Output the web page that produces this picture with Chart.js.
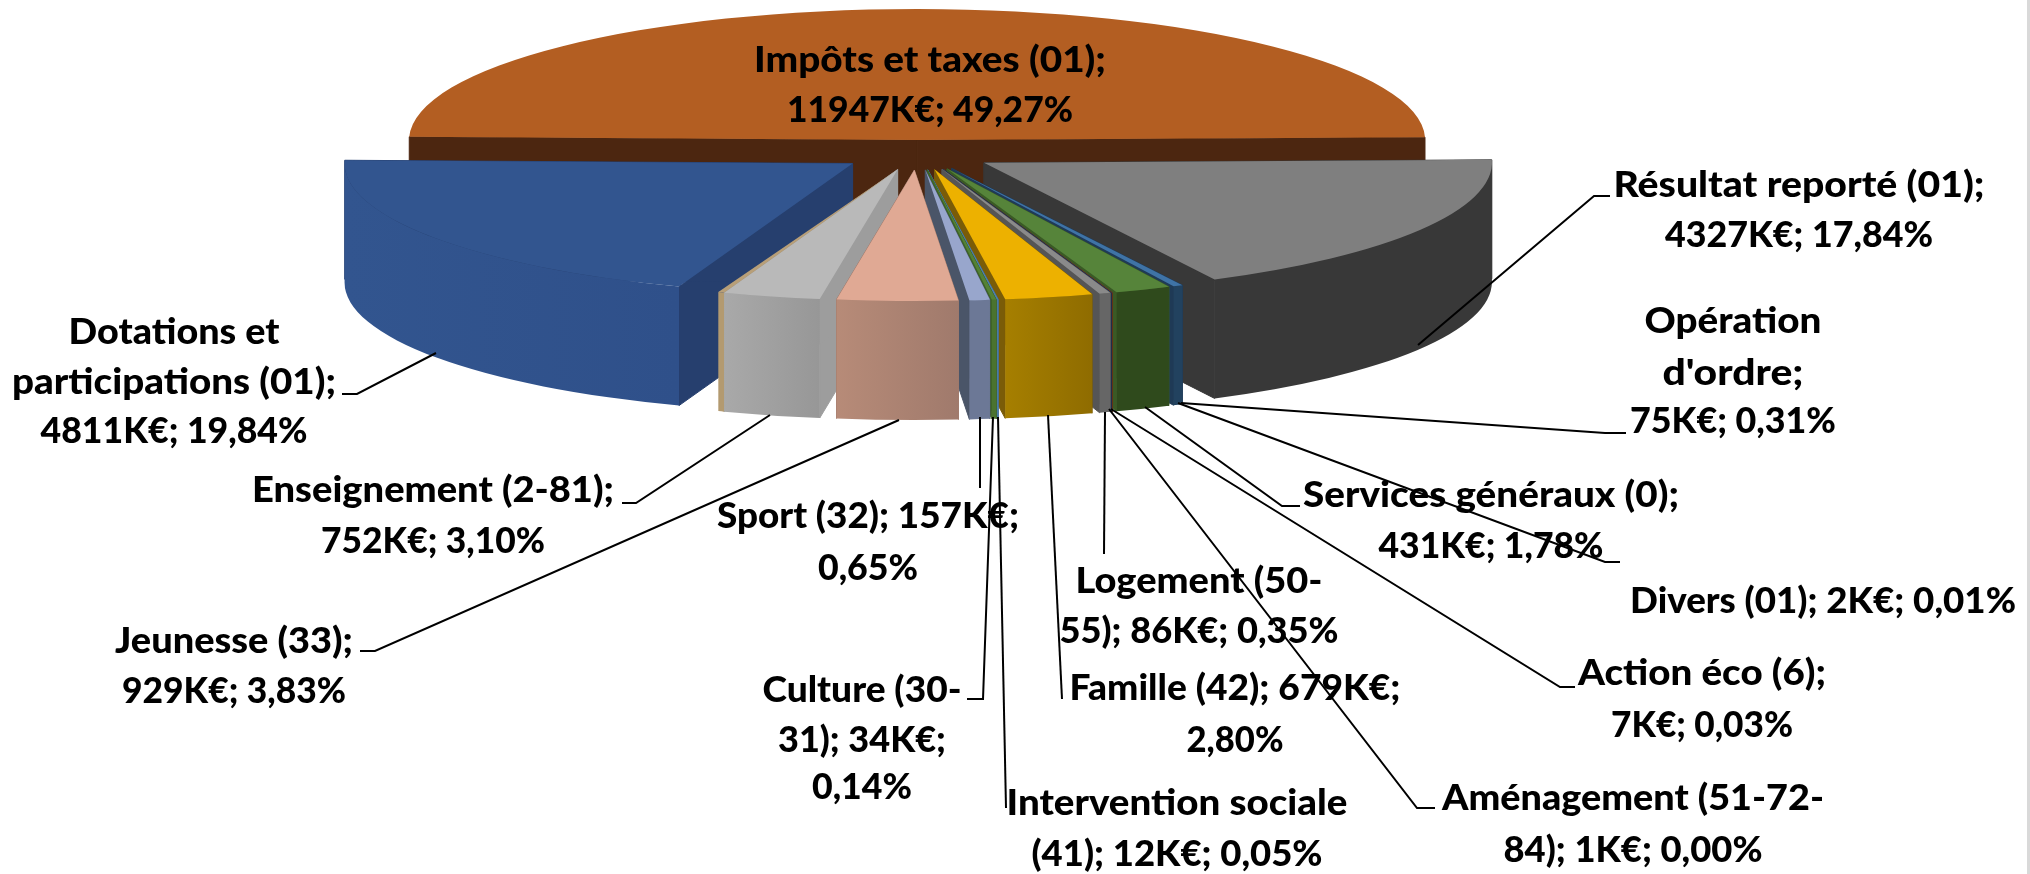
<!DOCTYPE html>
<html lang="fr">
<head>
<meta charset="utf-8">
<title>Recettes</title>
<script src="https://cdn.jsdelivr.net/npm/chart.js@4"></script>
<style>
  html, body { margin: 0; padding: 0; background: #fff; overflow: hidden; }
  canvas { display: block; filter: blur(0.5px); }
</style>
</head>
<body>
<canvas id="recettes-chart" width="2030" height="874"></canvas>
<script>
// Chart values, same order as the slices clockwise
const categories = [
  "Impôts et taxes (01)", "Résultat reporté (01)", "Opération d'ordre", "Services généraux (0)",
  "Divers (01)", "Action éco (6)", "Aménagement (51-72-84)", "Logement (50-55)", "Famille (42)",
  "Intervention sociale (41)", "Culture (30-31)", "Sport (32)", "Jeunesse (33)",
  "Enseignement (2-81)", "Dotations et participations (01)"
];
const valuesKEur = [11947, 4327, 75, 431, 2, 7, 1, 86, 679, 12, 34, 157, 929, 752, 4811];

// Slice colours: top face, outer wall (left and right of the gradient), cut faces
const topColors = ['#b35e22', '#7f7f7f', '#3f73a6', '#56843a', '#636363', '#9e480e', '#264478', '#8a8a8a',
  '#edb100', '#4f81b0', '#548235', '#98a6cc', '#e0a994', '#b9b9b9', '#32558f'];
const wallColors = [['#4c2610', '#4c2610'], ['#383838', '#383838'], ['#22425f', '#22425f'], ['#2f4a1c', '#2f4a1c'],
  ['#444444', '#444444'], ['#6b300a', '#6b300a'], ['#1a2e50', '#1a2e50'], ['#666666', '#666666'],
  ['#a67f00', '#8f6c00'], ['#4a7ba8', '#4a7ba8'], ['#4a7330', '#4a7330'], ['#6c7896', '#6c7896'],
  ['#b78b78', '#a07a6c'], ['#a9a9a9', '#979797'], ['#32558f', '#2f508a']];
const cutColors = ['#4c2610', '#383838', '#1f3a56', '#3a5a25', '#444444', '#6b300a', '#1a2e50', '#555555',
  '#7a5c08', '#3f6d96', '#3d6325', '#4a5568', '#a07a6c', '#9d9d9d', '#263f6e'];

// Data labels: wrapped lines, centre x, baselines, fitted widths, leader line
const labelLines = [
  ["Impôts et taxes (01);", "11947K€; 49,27%"],
  ["Résultat reporté (01);", "4327K€; 17,84%"],
  ["Opération", "d'ordre;", "75K€; 0,31%"],
  ["Services généraux (0);", "431K€; 1,78%"],
  ["Divers (01); 2K€; 0,01%"],
  ["Action éco (6);", "7K€; 0,03%"],
  ["Aménagement (51-72-", "84); 1K€; 0,00%"],
  ["Logement (50-", "55); 86K€; 0,35%"],
  ["Famille (42); 679K€;", "2,80%"],
  ["Intervention sociale", "(41); 12K€; 0,05%"],
  ["Culture (30-", "31); 34K€;", "0,14%"],
  ["Sport (32); 157K€;", "0,65%"],
  ["Jeunesse (33);", "929K€; 3,83%"],
  ["Enseignement (2-81);", "752K€; 3,10%"],
  ["Dotations et", "participations (01);", "4811K€; 19,84%"]
];
const labelCenters = [930, 1799, 1733, 1491, 1823, 1702, 1633, 1199, 1235, 1177, 862, 868, 234, 433, 174];
const labelBaselines = [
  [72, 122], [197, 247], [333, 385, 433], [507, 558], [613], [685, 737], [810, 862], [593, 643],
  [700, 752], [815, 866], [702, 752, 799], [528, 580], [653, 703], [502, 553], [344, 394, 443]
];
const labelWidths = [
  [352, 286], [371, 268], [177, 141, 206], [376, 225], [386], [248, 182], [382, 259], [247, 279],
  [331, 97], [341, 291], [199, 168, 100], [302, 100], [238, 224], [362, 224], [211, 324, 267]
];
const leaderLines = [
  null,
  [[1610, 196], [1594, 196], [1418, 345]],
  [[1626, 433], [1605, 433], [1181, 403]],
  [[1300, 506], [1282, 506], [1145, 407]],
  [[1620, 562], [1605, 562], [1178, 403]],
  [[1575, 687], [1560, 687], [1111, 409]],
  [[1435, 808], [1417, 808], [1109, 409]],
  [[1104, 554], [1105, 412]],
  [[1062, 699], [1048, 415]],
  [[1006, 808], [998, 417]],
  [[967, 699], [983, 699], [993, 417]],
  [[980, 488], [980, 417]],
  [[360, 651], [375, 651], [899, 420]],
  [[622, 503], [636, 503], [770, 415]],
  [[342, 394], [357, 394], [436, 353]]
];

// 3D look of the pie
const PIE_X = 917, PIE_Y = 155;
const RADIUS_X = 508, RADIUS_Y = 131, DEPTH = 119;
const EXPLODE_X = 78, EXPLODE_Y = 15;
const ENSEIGNEMENT = 13; // this slice has a thin tan edge on its left

function sliceOrigin(arc) {
  const mid = (arc.startAngle + arc.endAngle) / 2;
  return { x: PIE_X + Math.cos(mid) * EXPLODE_X, y: PIE_Y + Math.sin(mid) * EXPLODE_Y };
}

function cutFace(ctx, o, angle, color) {
  const ex = o.x + Math.cos(angle) * RADIUS_X, ey = o.y + Math.sin(angle) * RADIUS_Y;
  ctx.fillStyle = color;
  ctx.strokeStyle = color; // hides the seam where two faces meet
  ctx.lineWidth = 1;
  ctx.beginPath();
  ctx.moveTo(o.x, o.y);
  ctx.lineTo(ex, ey);
  ctx.lineTo(ex, ey + DEPTH);
  ctx.lineTo(o.x, o.y + DEPTH);
  ctx.closePath();
  ctx.fill();
  ctx.stroke();
}

function outerWall(ctx, o, start, end, colors) {
  // only the front half of the rim can be seen
  const a0 = Math.max(start, 0), a1 = Math.min(end, Math.PI);
  if (a1 <= a0) return;
  const x0 = o.x + Math.cos(a1) * RADIUS_X, x1 = o.x + Math.cos(a0) * RADIUS_X;
  const grad = ctx.createLinearGradient(x0, 0, x1, 0);
  grad.addColorStop(0, colors[0]);
  grad.addColorStop(1, colors[1]);
  ctx.fillStyle = grad;
  ctx.beginPath();
  ctx.ellipse(o.x, o.y, RADIUS_X, RADIUS_Y, 0, a0, a1);
  ctx.ellipse(o.x, o.y + DEPTH, RADIUS_X, RADIUS_Y, 0, a1, a0, true);
  ctx.closePath();
  ctx.fill();
}

const pie3d = {
  id: 'pie3d',
  beforeDatasetsDraw(chart) {
    const ctx = chart.ctx;
    const arcs = chart.getDatasetMeta(0).data;

    // back to front: the slices nearest the bottom are painted last
    const order = arcs.map((arc, i) => i).sort((a, b) => {
      const dist = arc => Math.abs(Math.atan2(
        Math.sin((arc.startAngle + arc.endAngle) / 2 - Math.PI / 2),
        Math.cos((arc.startAngle + arc.endAngle) / 2 - Math.PI / 2)));
      return dist(arcs[b]) - dist(arcs[a]);
    });

    order.forEach(i => {
      const arc = arcs[i];
      const o = sliceOrigin(arc);
      cutFace(ctx, o, arc.startAngle, cutColors[i]);
      cutFace(ctx, o, arc.endAngle, cutColors[i]);
      outerWall(ctx, o, arc.startAngle, arc.endAngle, wallColors[i]);

      // the library's own arc makes the top face, squashed into an ellipse
      ctx.save();
      ctx.translate(o.x, o.y);
      ctx.scale(RADIUS_X / arc.outerRadius, RADIUS_Y / arc.outerRadius);
      ctx.translate(-arc.x, -arc.y);
      arc.draw(ctx);
      ctx.restore();

      if (i === ENSEIGNEMENT) {
        const to = arc.endAngle + 0.012;
        outerWall(ctx, o, arc.endAngle, to, ['#b39a70', '#b39a70']);
        ctx.fillStyle = '#b89f78';
        ctx.beginPath();
        ctx.moveTo(o.x, o.y);
        ctx.ellipse(o.x, o.y, RADIUS_X, RADIUS_Y, 0, arc.endAngle, to);
        ctx.closePath();
        ctx.fill();
      }
    });
  },
  // arcs are already painted above
  beforeDatasetDraw() {
    return false;
  },
  afterDatasetsDraw(chart) {
    const ctx = chart.ctx;
    ctx.save();
    ctx.fillStyle = '#000';
    ctx.font = '900 36px Lato';
    ctx.textAlign = 'center';
    ctx.textBaseline = 'alphabetic';
    labelLines.forEach((lines, i) => {
      lines.forEach((line, j) => {
        // stretch or squeeze each line to the width it has in the picture
        ctx.save();
        ctx.translate(labelCenters[i], labelBaselines[i][j]);
        ctx.scale(labelWidths[i][j] / ctx.measureText(line).width, 1);
        ctx.fillText(line, 0, 0);
        ctx.restore();
      });
    });

    ctx.strokeStyle = '#000';
    ctx.lineWidth = 2;
    leaderLines.forEach(points => {
      if (!points) return;
      ctx.beginPath();
      points.forEach((p, k) => (k ? ctx.lineTo(p[0], p[1]) : ctx.moveTo(p[0], p[1])));
      ctx.stroke();
    });

    // light frame edge on the right
    ctx.fillStyle = '#d9d9d9';
    ctx.fillRect(chart.width - 3, 0, 3, chart.height);
    ctx.restore();
  }
};

new Chart(document.getElementById('recettes-chart').getContext('2d'), {
  type: 'pie',
  data: {
    labels: categories,
    datasets: [{
      data: valuesKEur,
      backgroundColor: topColors,
      borderWidth: 0
    }]
  },
  options: {
    responsive: false,
    animation: false,
    rotation: -88.6,
    plugins: {
      legend: { display: false },
      tooltip: { enabled: false }
    }
  },
  plugins: [pie3d]
});
</script>
</body>
</html>
